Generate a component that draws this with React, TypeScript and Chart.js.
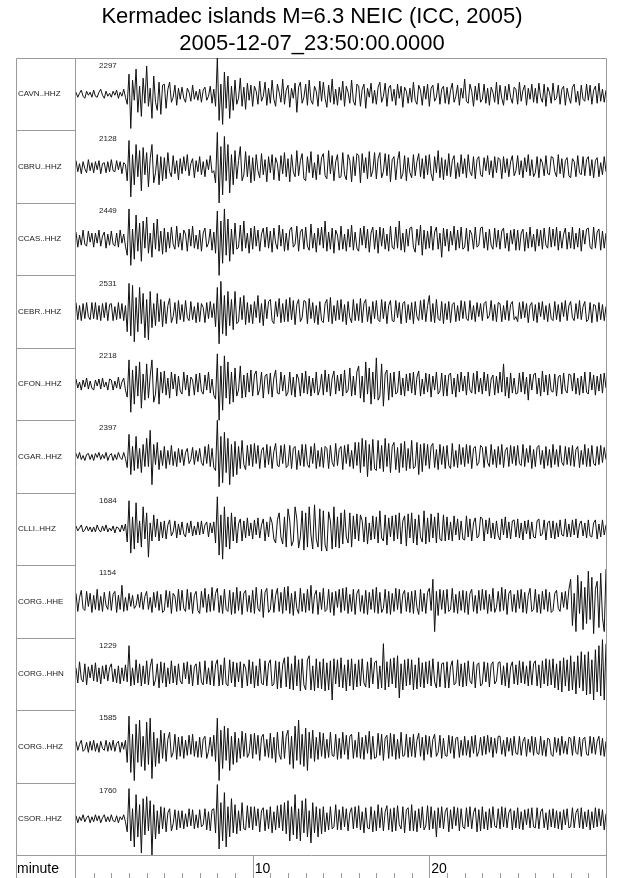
import React, { useEffect, useRef } from "react";
import { Chart, registerables } from "chart.js";

Chart.register(...registerables);

const TITLE_LINES = ["Kermadec islands M=6.3 NEIC (ICC, 2005)", "2005-12-07_23:50:00.0000"];
const STATIONS = ["CAVN..HHZ", "CBRU..HHZ", "CCAS..HHZ", "CEBR..HHZ", "CFON..HHZ", "CGAR..HHZ", "CLLI..HHZ", "CORG..HHE", "CORG..HHN", "CORG..HHZ", "CSOR..HHZ"];
const PEAKS = [2297, 2128, 2449, 2531, 2218, 2397, 1684, 1154, 1229, 1585, 1760];
const MINUTE_TICKS = [10, 20];
const AXIS_NAME = "minute";
const DURATION_MIN = 30;
const ROW_SPAN = 72;

// relative trace amplitudes, 10 samples per minute
const cavn = [
  2,-3,1,4,-2,-4,3,-1,2,-3, 4,-2,-3,2,5,-1,-4,3,-2,1, -3,3,-1,4,-4,2,-2,5,-3,-10,
  20,-34,14,-6,25,-18,8,-22,16,-9, 28,-12,6,-24,18,-8,-16,12,-20,9, 10,-14,5,12,-8,-3,9,-11,6,-5,
  7,-4,-8,6,2,-7,9,-5,3,-6, 5,-8,4,7,-6,-2,8,-9,5,-12, 36,-26,10,-30,22,-14,18,-24,8,-16,
  14,-10,-4,16,-12,7,-15,11,-6,9, -12,8,3,-10,13,-7,-2,12,-11,6, -9,14,-5,-12,10,2,-8,15,-10,4,
  9,-13,6,-4,11,-18,7,12,-9,-3, 10,-11,14,-6,-10,8,3,-12,13,-7, 12,-4,-13,9,-8,15,-10,5,-11,7,
  -6,13,-12,8,2,-9,14,-7,-11,10, 8,-12,5,10,-14,6,-3,11,-9,4, -10,7,12,-8,-2,11,-12,6,9,-7,
  5,-11,10,-4,8,-13,7,3,-9,6, -8,12,-6,-10,9,4,-11,8,-5,10, -12,6,9,-7,-3,11,-10,5,8,-9,
  7,-10,4,11,-8,-2,9,-11,6,-4, 15,-7,-9,10,3,-12,8,-6,11,-8, -5,10,-9,6,-11,7,2,-8,12,-10,
  9,-4,-11,8,-6,10,-3,-9,7,5, -10,12,-7,4,9,-11,6,-5,10,-8, 6,-9,11,-3,-8,10,-12,7,2,-9,
  11,-6,-4,9,-10,5,8,-11,6,-3, -9,7,10,-8,3,-11,9,-5,-7,10, -6,9,-10,4,8,-9,11,-7,5,-8, 4
];
const cbru = [
  6,-5,3,-7,5,-2,-6,7,-4,4, -6,5,-3,6,-7,3,4,-6,5,-5, 7,-4,-5,6,-3,5,-7,4,2,-14,
  26,-30,12,-18,22,-10,16,-24,19,-8, 14,-20,8,22,-16,-6,12,-18,10,-14, 9,-12,14,-5,-10,11,-7,6,-13,8,
  -7,10,-4,12,-9,3,8,-11,6,-5, 10,-8,5,-10,7,-3,11,-6,-4,-16, 34,-36,20,-28,30,-14,22,-26,12,-18,
  16,-12,6,20,-14,-8,15,-10,11,-16, 9,-14,12,-4,-11,13,-8,7,-15,10, -6,12,-13,9,3,-14,11,-7,14,-10,
  8,-15,12,-5,-10,16,-9,6,13,-12, -14,10,-6,15,-11,4,-13,12,-8,9, 13,-9,-12,16,-7,11,-14,5,12,-11,
  -10,14,-8,-13,12,6,-15,10,-9,13, 11,-16,13,-6,9,-12,15,-10,-4,14, -12,8,14,-11,-5,13,-9,12,-15,7,
  10,-13,6,15,-12,-7,11,-14,9,-6, -11,12,-9,5,13,-10,8,-12,11,-8, 12,-7,-14,10,-6,16,-11,9,-13,7,
  -9,13,-10,6,11,-12,4,-10,12,-7, 8,-11,12,-5,-9,10,-12,7,10,-8, -10,9,-4,11,-8,6,-11,10,-6,9,
  7,-12,10,-6,8,-10,5,11,-9,-4, 11,-8,6,-11,9,-5,12,-9,7,-10, -6,10,-11,8,4,-9,11,-7,-8,10,
  9,-5,-10,12,-7,8,-11,6,9,-9, -11,8,5,-10,11,-6,-8,10,-9,7, 10,-9,7,-11,6,9,-10,4,-8,10, -5
];
const ccas = [
  7,-8,4,-6,9,-5,-7,8,-3,6, -8,6,-4,9,-7,3,7,-9,5,-6, 8,-5,-7,6,-8,9,-4,5,-7,-16,
  30,-26,10,-20,24,-12,16,-22,18,-9, 22,-14,6,-18,16,-10,20,-12,8,-15, 11,-13,7,-9,12,-5,-10,13,-8,6,
  -11,9,5,-12,10,-7,13,-9,4,-10, 9,-12,6,11,-8,-4,10,-11,7,-14, 28,-36,18,-24,30,-16,20,-22,10,-15,
  16,-10,-8,14,-12,18,-9,6,-14,11, -10,13,-7,9,-12,5,11,-8,12,-9, 8,-13,11,-4,-10,14,-7,10,-12,6,
  -11,9,12,-8,-5,13,-12,7,10,-10, 12,-7,-11,15,-9,6,-13,11,-6,12, -9,18,-12,7,-10,11,-14,9,4,-11,
  13,-10,5,-12,10,-8,14,-11,7,-9, -12,11,-6,13,-9,10,-13,6,12,-10, 9,-14,12,-7,11,-10,5,-12,13,-8,
  -10,12,-9,18,-11,6,-13,10,-7,11, 12,-8,-13,10,-6,14,-16,9,-10,8, -9,13,-11,7,12,-10,6,-18,11,-7,
  10,-12,8,-6,13,-11,9,-9,12,-10, -8,11,-12,9,5,-10,12,-8,-6,11, 12,-9,7,-11,10,-6,-10,11,-8,9,
  -10,8,11,-9,6,-12,9,-5,10,-11, 9,-11,6,10,-12,7,-9,12,-8,5, -12,10,-7,9,-10,11,-6,-9,12,-8,
  10,-7,12,-11,8,-9,5,11,-10,7, -9,12,-10,6,-8,11,-12,9,-5,10, 11,-8,-10,12,-9,7,10,-11,8,-9, 6
];
const cebr = [
  9,-8,6,-9,8,-7,9,-5,-8,9, -7,9,-8,6,-9,8,-6,9,-9,7, 8,-9,5,-8,9,-7,8,-9,6,-20,
  28,-24,26,-30,14,-20,24,-12,18,-26, 12,-28,20,-16,8,-14,18,-10,12,-15, 10,-12,6,13,-11,-5,9,-12,11,-8,
  7,-10,11,-6,-9,10,-8,5,-11,9, -10,8,4,-11,9,-7,10,-6,8,-15, 24,-32,30,-22,16,-24,20,-14,12,-18,
  20,-12,-10,14,-8,16,-13,9,-11,7, -12,10,-6,16,-11,8,-14,12,-7,10, 12,-9,-12,10,-5,13,-11,8,-10,12,
  -10,14,-8,11,-13,7,12,-10,-6,11, 10,-12,13,-7,9,-11,6,-13,10,-9, -11,8,12,-10,14,-12,6,-9,11,-8,
  12,-10,7,-13,10,-6,-11,12,-9,8, -9,13,-11,8,12,-10,5,-12,10,-7, 11,-8,-10,12,-7,10,-12,6,11,-9,
  -10,11,-6,9,-12,8,10,-11,7,-8, 9,-12,10,-5,-9,11,-8,12,-10,6, 16,-10,8,-11,12,-7,-9,10,-12,8,
  -8,10,-11,7,9,-10,6,-9,11,-7, 10,-7,-9,11,-8,6,-10,9,-5,8, -9,8,10,-7,-4,11,-9,7,-10,9,
  8,-10,6,-8,11,-9,7,10,-8,-5, -10,9,-7,10,-6,8,-11,6,9,-9, 7,-11,9,-5,10,-8,6,-10,8,-7,
  -9,10,-8,7,-10,9,-5,11,-9,6, 10,-6,-9,8,-7,11,-8,5,10,-10, -8,9,-11,7,6,-10,9,-8,7,-9, 5
];
const cfon = [
  5,-4,2,-6,4,-3,6,-5,3,-4, -6,4,-2,5,-5,6,-3,2,-6,5, 4,-6,3,-4,7,-5,2,6,-6,-13,
  24,-28,14,-20,18,-12,22,-24,10,-16, 20,-14,8,24,-18,-10,16,-20,12,-9, 13,-11,6,-14,12,-5,10,-12,8,-7,
  -10,12,-6,9,-12,7,4,-11,10,-8, 11,-7,-10,9,-6,12,-9,5,-11,-15, 30,-36,18,-26,28,-14,22,-20,12,-18,
  16,-12,-6,18,-14,9,-13,11,-8,14, -12,9,13,-11,-5,12,-14,8,10,-10, 11,-13,6,14,-9,-10,12,-7,9,-12,
  -8,12,-11,7,-13,10,5,-12,11,-9, 13,-10,8,-12,6,-9,12,-11,-5,10, -11,14,-8,10,-12,6,13,-10,9,-7,
  10,-12,14,-9,-6,16,-12,8,-11,12, 18,-14,8,-18,22,-10,16,-20,12,-15, 26,-16,-12,20,-22,10,14,-16,11,-13,
  12,-10,-8,13,-11,6,-12,10,-7,11, -9,12,-11,7,13,-12,5,-10,11,-8, 10,-13,8,-6,12,-10,-7,11,-12,9,
  -12,9,11,-10,6,-13,10,-8,12,-7, 8,-11,12,-6,-9,11,-10,13,-8,6, -10,12,-7,10,-12,5,9,-11,8,-9,
  12,-8,20,-12,7,-14,11,-9,6,-10, -9,11,-8,12,-10,7,-16,10,-6,9, 11,-10,6,-12,13,-8,9,-11,10,-7,
  -8,10,-12,7,9,-10,11,-6,-9,10, 9,-7,11,-10,6,-11,8,-9,12,-8, -10,12,-6,9,-11,8,-7,10,-9,11, -4
];
const cgar = [
  3,-2,4,-3,1,-4,2,3,-3,2, -4,3,-1,4,-3,2,-2,4,-4,1, 3,-4,2,-3,4,-1,-3,4,-2,-11,
  22,-18,10,-14,20,-12,8,-16,12,-10, 18,-10,26,-28,12,-8,14,-13,6,-9, 10,-12,6,-8,11,-9,5,-10,8,-6,
  7,-9,4,8,-7,-3,9,-8,6,-5, 8,-6,-9,10,-7,12,-10,8,-11,-14, 36,-30,20,-26,24,-16,18,-28,12,-20,
  15,-18,10,-12,16,-8,-13,11,-9,12, -10,13,-7,11,-12,6,9,-11,12,-8, 10,-12,5,13,-9,-10,11,-7,12,-11,
  -9,11,-12,8,10,-13,6,-9,12,-10, 12,-8,-11,10,-7,13,-12,6,-10,9, -11,10,8,-12,11,-6,-10,13,-9,7,
  10,-13,11,-7,12,-10,6,-12,14,-9, 14,-16,18,-10,16,-20,12,-14,17,-12, -14,16,-12,11,-15,18,-10,13,-16,10,
  14,-13,9,-16,13,-11,15,-14,8,-12, 16,-12,-10,14,-18,12,-15,13,-9,12, -12,10,13,-11,7,-13,12,-8,10,-12,
  11,-9,-12,13,-10,6,-11,12,-8,9, -10,12,-7,11,-12,8,10,-9,-6,11, 9,-11,10,-6,-10,12,-8,7,-11,10,
  -8,12,-11,6,9,-10,11,-7,10,-9, 11,-7,-9,12,-10,8,-6,11,-12,7, -10,9,11,-8,6,-12,10,-9,7,-11,
  12,-8,7,-10,11,-6,-9,10,-8,9, -9,11,-10,7,10,-11,6,-8,12,-10, 8,-10,11,-7,-9,10,-8,11,-6,9, -3
];
const clli = [
  3,-2,1,4,-3,-1,3,-2,2,-3, 2,-3,4,-1,-3,3,-2,4,-3,1, -2,3,-4,2,1,-3,4,-2,5,-13,
  28,-24,12,-20,26,-14,8,-18,22,-10, 16,-28,6,-12,14,-8,10,-12,7,-9, 8,-10,4,9,-7,-3,8,-9,5,-6,
  7,-5,-8,6,-4,8,-7,3,-6,7, -6,8,-5,4,7,-8,6,-4,7,-14, 32,-26,14,-30,22,-18,12,-20,16,-12,
  12,-14,5,10,-12,8,-9,11,-7,6, -10,9,-6,11,-9,4,10,-12,7,-8, 12,6,-10,-14,9,16,-8,-15,12,-18,
  20,8,-17,-12,22,10,-19,-8,18,-21, 16,-18,22,-6,-20,24,-10,-18,20,-22, 18,-16,-22,17,8,-20,22,-18,12,-19,
  16,-15,19,-8,-14,16,-18,13,-10,15, -12,14,8,-13,12,-15,6,-11,13,-10, 12,-14,18,-9,-12,14,-16,11,-8,13,
  -12,14,-10,16,-15,8,13,-17,15,-9, 16,-14,10,-16,14,-8,-13,18,-15,11, -13,15,-9,12,-14,16,-10,-12,14,-12,
  12,-11,7,-12,13,-6,10,-11,8,-10, -11,13,-8,10,-12,6,11,-9,-7,12, 10,-12,9,-5,11,-9,6,-10,8,-7,
  -11,10,-6,12,-9,7,-10,8,9,-8, 10,-9,6,-11,8,-5,9,-10,7,-8, -9,8,10,-7,-5,9,-11,6,8,-9,
  8,-10,6,-8,9,-6,-7,10,-8,5, -8,9,-6,10,-9,5,8,-7,6,-9, 9,-7,-8,6,9,-10,5,-8,9,-6, 4
];
const corgE = [
  8,-10,4,11,-7,-9,10,-5,8,-11, 6,-8,12,-9,5,-10,9,-4,-8,10, -9,7,10,-11,6,-8,16,-10,4,-9,
  8,-5,6,-7,-4,7,-6,9,-8,5, 10,-8,4,-11,9,-6,10,-9,7,-11, -9,11,-6,10,-12,8,5,-10,12,-9,
  11,-7,-10,12,-8,9,-12,6,10,-9, -12,10,-6,13,-11,7,-10,14,-9,8, 13,-11,6,-12,12,-8,-10,11,-13,9,
  -12,14,-9,10,-13,8,11,-10,6,-11, 11,-12,14,-7,-10,12,-16,9,13,-11, -8,12,-11,6,13,-10,9,-12,14,-9,
  15,-12,8,-14,10,-7,-12,13,-10,8, -11,12,-9,16,-12,6,11,-13,9,-8, 13,-10,-8,12,-11,9,-14,10,-6,12,
  -11,13,-9,14,-12,7,-10,12,-13,8, 12,-10,6,-12,11,-13,9,-8,12,-11, 14,-12,9,-11,-7,12,-12,10,-13,8,
  -10,13,-8,12,-12,7,11,-10,9,-11, 10,-12,11,-6,-13,12,-10,8,-12,9, 13,-9,22,-30,10,-14,12,-8,11,-12,
  12,-10,-8,13,-11,7,-12,10,-9,11, -11,10,-13,8,12,-10,6,-12,11,-9, 12,-8,11,-12,7,-10,13,-11,-6,10,
  -10,14,-9,12,-13,8,11,-10,7,-11, 11,-7,12,-11,9,-12,6,13,-10,-8, 12,-11,7,-12,10,-8,12,-10,9,-11,
  -9,8,11,-7,-10,9,-6,10,-8,12, 22,-24,8,-30,26,-12,20,-28,14,-22, 30,-18,24,-32,12,20,-26,28,-16,-30, 32
];
const corgN = [
  6,-9,12,-5,-8,10,-11,7,-4,9, -7,11,-8,6,-10,8,-5,9,-7,6, 10,-8,5,-9,8,-10,6,-7,9,-8,
  28,-12,6,-11,14,-9,10,-12,8,-10, 13,-11,7,15,-12,-6,10,-14,12,-9, 11,-13,6,-10,13,-9,8,-11,10,-7,
  -10,11,-5,12,-10,9,-12,7,10,-11, 12,-8,-11,13,-10,6,-11,13,-12,9, 14,-12,9,-11,16,-10,-12,14,-9,12,
  -13,11,-8,12,-14,10,6,-12,14,-10, 12,-14,8,-12,15,-9,-11,13,-12,10, 14,-12,-10,13,-15,12,-14,9,16,-13,
  17,-15,10,-16,18,-12,14,-17,15,-11, -16,14,18,-16,8,-17,15,-14,12,-15, 15,-17,11,-16,13,-26,15,-10,14,-13,
  16,-14,9,-17,14,-12,15,-16,10,-13, 14,-12,15,-9,-13,12,-14,16,-10,11, 13,-15,8,-14,30,-16,12,-13,15,-10,
  16,-14,18,-24,10,-16,14,-12,15,-11, 14,-16,9,-15,16,-13,11,-14,12,-10, 13,-12,15,-8,-14,12,-13,10,11,-14,
  12,-14,7,13,-11,-9,14,-12,10,-13, 11,-12,13,-7,-10,12,-14,9,11,-12, -10,12,-8,11,-13,9,12,-10,-7,11,
  12,-11,8,-12,11,-14,7,12,-10,9, -11,13,-9,12,-10,8,-12,13,-11,10, 13,-12,9,-14,13,-10,15,-12,14,-11,
  15,-14,10,-16,13,-18,16,-12,14,-17, 18,-16,12,-20,18,-14,22,-17,19,-21, 22,-20,14,-26,24,-18,28,-22,34,-26, 30
];
const corgZ = [
  5,-4,2,6,-5,-3,4,-6,5,-4, 6,-5,3,-6,5,-2,-4,6,-5,4, -4,6,-5,3,5,-6,4,-3,6,-16,
  30,-26,12,-34,22,-16,26,-20,10,-24, 24,-18,28,-32,14,-20,8,-17,16,-12, 13,-15,7,14,-11,-6,12,-13,9,-10,
  10,-12,6,-9,11,-8,12,-10,5,-11, 9,-11,7,10,-12,-5,9,-10,11,-15, 28,-34,16,-22,20,-14,18,-24,10,-18,
  14,-16,8,-12,15,-10,13,-11,-7,12, -12,13,-8,11,-14,9,12,-10,7,-11, 13,-12,9,-16,14,-8,-13,15,-12,10,
  16,-18,10,-22,20,-14,26,-18,12,-20, 18,-24,14,-12,16,-15,9,-13,14,-10, 13,-12,7,-11,14,-9,-10,12,-13,8,
  -12,14,-8,11,-13,10,12,-12,6,-11, 14,-12,9,-13,11,-7,15,-13,10,-12, -11,13,-9,12,-14,8,11,-12,13,-10,
  12,-13,7,-12,14,-10,-9,12,-11,9, -10,12,-11,6,13,-10,9,-14,11,-8, 10,-11,7,12,-10,-6,11,-12,8,-9,
  -10,11,-7,10,-12,8,9,-11,6,-9, 10,-9,6,-11,10,-7,11,-10,-5,9, -9,10,-8,11,-6,9,-11,8,-7,10,
  10,-8,6,-10,9,-5,8,-9,10,-7, -8,10,-9,5,9,-10,7,-6,10,-9, 9,-7,-8,10,-9,6,-10,8,7,-8,
  -10,9,-6,8,-9,10,-7,5,-8,9, 8,-9,10,-6,-8,9,-10,7,9,-8, -9,10,-7,9,-8,5,10,-9,8,-10, 5
];
const csor = [
  3,-4,2,-2,4,-3,1,3,-4,2, -3,4,-2,3,-4,1,4,-3,2,-3, 4,-2,-3,3,-4,2,-1,4,-3,-13,
  30,-22,10,-28,24,-18,14,-34,20,-16, 22,-12,18,-36,14,-20,8,-15,12,-10, 11,-13,6,10,-12,-5,9,-11,8,-9,
  8,-10,5,-8,10,-7,9,-10,4,-9, 9,-8,-6,10,-11,7,-12,9,10,-14, 34,-30,16,-22,26,-28,12,-18,20,-14,
  14,-15,8,-12,16,-10,-11,13,-9,12, -11,12,-7,10,-13,8,11,-12,9,-10, 12,-14,7,-11,13,-9,14,-12,16,-15,
  18,-22,12,-16,24,-20,10,-22,18,-14, 20,-18,8,-24,16,-14,12,-18,10,-15, 12,-13,6,-11,12,-10,-8,14,-11,9,
  -11,12,-8,10,-12,6,11,-10,12,-9, 13,-11,7,-14,11,-9,-10,12,-13,8, -12,14,-9,11,-12,7,13,-11,10,-13,
  11,-12,13,-6,-10,12,-14,9,11,-12, 14,-12,8,-13,10,-9,12,-11,-7,13, -11,12,-10,8,-18,11,-9,12,-10,7,
  11,-13,9,-10,12,-7,11,-12,10,-8, -10,11,-8,12,-10,6,11,-13,9,-12, 12,-10,7,-11,10,-9,12,-7,-9,10,
  -10,12,-8,11,-9,6,10,-11,8,-9, 11,-10,7,-11,9,-6,10,-9,11,-8, -9,11,-10,7,10,-9,6,-11,9,-8,
  10,-9,8,-10,7,-11,9,-6,10,-9, -8,11,-9,6,10,-9,11,-10,7,-8, 9,-11,7,-9,11,-8,10,-7,9,-11, 5
];

const TRACES = [cavn, cbru, ccas, cebr, cfon, cgar, clli, corgE, corgN, corgZ, csor];

const FONT = '"Liberation Sans", Arial, Helvetica, sans-serif';
const FRAME = "#9a9a9a";

const framePlugin = {
  id: "seisFrame",
  beforeDatasetsDraw(chart: any) {
    const { ctx, chartArea, scales } = chart;
    const xs = scales.x;
    const ys = scales.y;
    const left = 16.5;
    const bottom = chart.height;
    ctx.save();
    ctx.strokeStyle = FRAME;
    ctx.lineWidth = 1;
    ctx.beginPath();
    const top = Math.round(chartArea.top) + 0.5;
    const right = Math.round(chartArea.right) + 0.5;
    const colX = Math.round(chartArea.left) - 0.5;
    ctx.moveTo(left, top); ctx.lineTo(right, top);
    ctx.moveTo(left, top); ctx.lineTo(left, bottom);
    ctx.moveTo(right, top); ctx.lineTo(right, bottom);
    ctx.moveTo(colX, top); ctx.lineTo(colX, bottom);
    for (let k = 1; k < TRACES.length; k++) {
      const yy = Math.round(ys.getPixelForValue(k * ROW_SPAN)) + 0.5;
      ctx.moveTo(left, yy); ctx.lineTo(colX, yy);
    }
    const axTop = Math.round(chartArea.bottom) + 0.5;
    ctx.moveTo(left, axTop); ctx.lineTo(right, axTop);
    for (let m = 1; m < DURATION_MIN; m++) {
      const xx = Math.round(xs.getPixelForValue(m)) + 0.5;
      const major = MINUTE_TICKS.includes(m);
      ctx.moveTo(xx, major ? axTop : bottom - 5);
      ctx.lineTo(xx, bottom);
    }
    ctx.stroke();
    ctx.restore();
  },
  afterDraw(chart: any) {
    const { ctx, chartArea, scales } = chart;
    const xs = scales.x;
    const ys = scales.y;
    ctx.save();
    ctx.fillStyle = "#000";
    ctx.textAlign = "center";
    ctx.textBaseline = "alphabetic";
    ctx.font = `22px ${FONT}`;
    ctx.fillText(TITLE_LINES[0], 312, 23);
    ctx.fillText(TITLE_LINES[1], 312, 50);

    ctx.fillStyle = "#222";
    ctx.textAlign = "left";
    ctx.textBaseline = "middle";
    ctx.font = `8px ${FONT}`;
    TRACES.forEach((_, i) => {
      const rowTop = ys.getPixelForValue((TRACES.length - i) * ROW_SPAN);
      const rowMid = ys.getPixelForValue((TRACES.length - i - 0.5) * ROW_SPAN);
      ctx.fillText(STATIONS[i], 18, rowMid);
      ctx.fillText(String(PEAKS[i]), chartArea.left + 23, rowTop + 8);
    });

    ctx.fillStyle = "#000";
    ctx.textBaseline = "alphabetic";
    ctx.font = `14px ${FONT}`;
    const base = chart.height - 5;
    ctx.fillText(AXIS_NAME, 17, base);
    MINUTE_TICKS.forEach((m) => {
      ctx.fillText(String(m), xs.getPixelForValue(m) + 2, base);
    });
    ctx.restore();
  },
};

export default function App() {
  const ref = useRef<HTMLCanvasElement | null>(null);

  useEffect(() => {
    document.body.style.margin = "0";
    const canvas = ref.current;
    if (!canvas) return;
    const n = TRACES.length;
    const datasets = TRACES.map((trace, k) => ({
      label: STATIONS[k],
      data: trace.map((v, i) => ({
        x: (i * DURATION_MIN) / (trace.length - 1),
        y: (n - 0.5 - k) * ROW_SPAN + v,
      })),
      borderColor: "#111111",
      borderWidth: 1,
      pointRadius: 0,
      tension: 0,
      fill: false,
    }));
    const chart = new Chart(canvas, {
      type: "line",
      data: { datasets },
      options: {
        animation: false,
        responsive: false,
        devicePixelRatio: 1,
        events: [],
        layout: { padding: { left: 76, top: 58, right: 34, bottom: 23 } },
        plugins: { legend: { display: false }, title: { display: false }, tooltip: { enabled: false } },
        scales: {
          x: { type: "linear", min: 0, max: DURATION_MIN, display: false },
          y: { type: "linear", min: 0, max: n * ROW_SPAN, display: false },
        },
      },
      plugins: [framePlugin],
    });
    return () => chart.destroy();
  }, []);

  return <canvas ref={ref} width={640} height={878} style={{ display: "block" }} />;
}
